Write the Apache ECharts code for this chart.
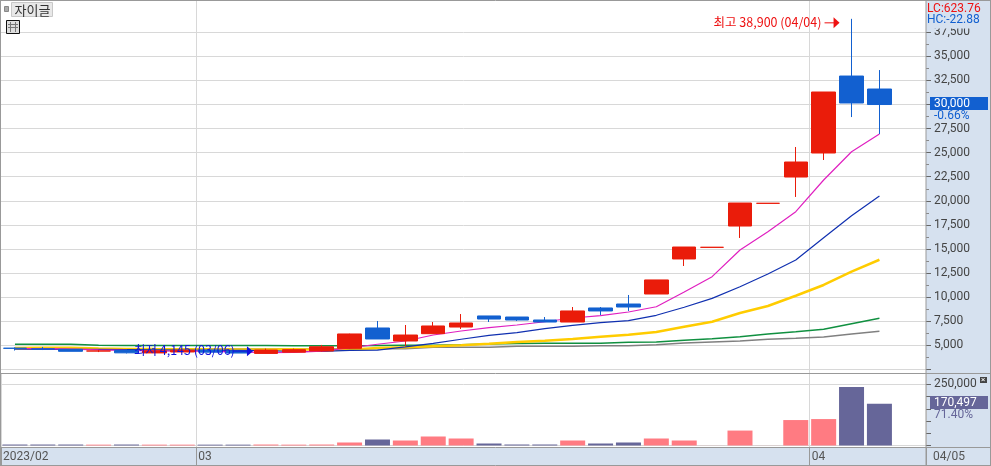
<!DOCTYPE html>
<html><head><meta charset="utf-8">
<style>html,body{margin:0;padding:0;background:#fff}#c{width:991px;height:466px}</style>
<script src="https://cdn.jsdelivr.net/npm/echarts@6/dist/echarts.min.js"></script>
</head><body><div id="c"></div>
<script>
const dates=['02/20','02/21','02/22','02/23','02/24','02/27','02/28','03/02','03/03','03/06','03/07','03/08','03/09','03/10','03/13','03/14','03/15','03/16','03/17','03/20','03/21','03/22','03/23','03/24','03/27','03/28','03/29','03/30','03/31','04/03','04/04','04/05'];
const opens=[4690,4620,4570,4400,4450,4200,4300,4500,4400,4150,4280,4400,4680,6790,5440,6200,6890,8040,7930,7620,7410,8870,9280,10320,13960,15170,17380,19740,22470,24965,32960,31610];
const closes=[4680,4600,4370,4400,4210,4420,4480,4280,4190,4500,4540,4840,6170,5650,6060,7000,7310,7720,7620,7410,8560,8560,8970,11780,15200,15170,19770,19740,24030,31300,30160,30000];
const highs=[4780,4820,4600,4520,4550,4450,4520,4540,4420,4650,4650,5030,6200,7520,7100,7410,8240,8040,7930,7930,8970,8970,10220,11780,15200,15170,19770,19740,25590,31300,38900,33580];
const lows=[4450,4500,4370,4290,4150,4200,4300,4280,4190,4145,4280,4350,4650,5650,4920,6200,6690,7410,7520,7410,7410,8140,8560,10320,13230,15170,16140,19740,20400,24240,28700,26940];
const volumes=[4000,4000,4000,3500,4000,3500,3500,3500,3500,4000,3500,4000,12300,24500,20400,36800,28600,8200,4100,4100,20400,8200,12300,28600,20400,300,61000,300,104000,108000,239000,170497];
const maA=[4660,4640,4590,4520,4460,4420,4390,4370,4320,4240,4260,4390,4720,5100,5440,6060,6480,6820,7100,7440,7830,8070,8450,9000,10530,12120,14890,16790,18870,22160,25100,26940];
const maB=[4620,4600,4580,4560,4540,4520,4500,4480,4460,4430,4350,4370,4470,4500,4820,5200,5620,6030,6300,6720,7070,7340,7550,8110,8940,9870,11080,12400,13850,16170,18450,20500];
const maC=[4720,4750,4740,4650,4620,4600,4590,4570,4560,4560,4570,4540,4520,4710,4790,4890,4990,5160,5340,5470,5650,5890,6090,6370,6920,7440,8350,9070,10140,11260,12640,13880];
const maD=[5100,5100,5100,5000,4980,4980,4970,4970,4960,4960,4950,4950,4950,4960,5000,5000,5050,5130,5180,5200,5200,5200,5300,5340,5510,5680,5890,6170,6400,6650,7240,7800];
const maE=[4620,4620,4620,4620,4620,4620,4620,4620,4620,4620,4620,4620,4640,4640,4640,4790,4790,4790,4890,4890,4890,4950,4950,5050,5230,5340,5440,5620,5720,5850,6170,6450];
const priceTicks=[2500,5000,7500,10000,12500,15000,17500,20000,22500,25000,27500,30000,32500,35000,37500];
const priceMinorTicks=[3750,6250,8750,11250,13750,16250,18750,21250,23750,26250,28750,31250,33750,36250,38750];
const volumeTicks=[0,50000,100000,150000,200000,250000];
const monthTickPositions=[-0.5,6.5,28.5,32.67];
const monthTickLabels=['2023/02','03','04','{far|04/05}'];

const UP='#ea1c0a',DOWN='#1260d0',VUP='#ff7b82',VDOWN='#666699',PANEL='#d6e1ef',GRID='#d8d8d8',BORDER='#999999',TXT='#444444';
const NUM='Roboto,"Liberation Sans",sans-serif', KR='"Noto Sans CJK KR",sans-serif';
const candle=dates.map((d,i)=>[i,opens[i],closes[i],lows[i],highs[i]]);
const line=(arr,color,w)=>({type:'line',xAxisIndex:0,yAxisIndex:0,data:arr.map((v,i)=>[i,v]),showSymbol:false,symbol:'none',smooth:false,silent:true,z:1,animation:false,lineStyle:{color,width:w}});
const X=[-0.5,32.67];
const chart=echarts.init(document.getElementById('c'),null,{renderer:'canvas'});
const priceFmt=v=>v.toLocaleString('en-US');
const noLine={show:false,onZero:false};
chart.setOption({
 animation:false,backgroundColor:'#fff',
 grid:[{left:1,right:65,top:1,height:372},{left:1,right:65,top:373.3,height:74}],
 xAxis:[
  {type:'value',gridIndex:0,min:X[0],max:X[1],axisLine:noLine,axisLabel:{show:false},axisTick:{show:false,customValues:monthTickPositions.slice(1,3)},splitLine:{show:true,lineStyle:{color:GRID,width:1}}},
  {type:'value',gridIndex:1,min:X[0],max:X[1],axisLine:noLine,
   axisTick:{show:true,length:19,customValues:monthTickPositions,lineStyle:{color:BORDER}},
   axisLabel:{show:true,customValues:monthTickPositions,align:'left',verticalAlign:'top',margin:3.5,padding:[0,0,0,2],color:'#555',fontFamily:NUM,fontSize:12,
    rich:{far:{padding:[0,0,0,5],color:'#555',fontFamily:NUM,fontSize:12}},
    formatter:v=>monthTickLabels[monthTickPositions.indexOf(v)]||'',showMinLabel:true,showMaxLabel:true,hideOverlap:false},
   splitLine:{show:true,lineStyle:{color:GRID,width:1}}}
 ],
 yAxis:[
  {type:'value',gridIndex:0,position:'right',min:2116,max:40753,scale:true,axisLine:noLine,
   axisTick:{show:true,length:5,customValues:priceTicks,lineStyle:{color:'#666'}},
   axisLabel:{show:true,customValues:priceTicks,margin:8,color:TXT,fontFamily:NUM,fontSize:12,showMinLabel:true,showMaxLabel:true,hideOverlap:false,
     formatter:v=>v===2500?'':priceFmt(v)},
   splitLine:{show:true,lineStyle:{color:GRID,width:1}}},
  {type:'value',gridIndex:0,position:'right',min:2116,max:40753,scale:true,axisLine:noLine,
   axisTick:{show:true,length:3,customValues:priceMinorTicks,lineStyle:{color:'#888'}},axisLabel:{show:false},splitLine:{show:false}},
  {type:'value',gridIndex:1,position:'right',min:-7350,max:295000,axisLine:noLine,
   axisTick:{show:true,length:5,customValues:volumeTicks,lineStyle:{color:'#666'}},
   axisLabel:{show:true,customValues:[250000],margin:8,color:TXT,fontFamily:NUM,fontSize:12,formatter:priceFmt,hideOverlap:false},
   splitLine:{show:false}}
 ],
 series:[
  line(maE,'#808080',1.5),line(maD,'#109040',1.5),line(maC,'#ffcc00',2.5),line(maB,'#1030b0',1.2),line(maA,'#e020c0',1.2),
  {type:'candlestick',xAxisIndex:0,yAxisIndex:0,z:3,silent:true,barWidth:24,data:candle,encode:{x:0,y:[1,2,3,4]},
   itemStyle:{color:UP,color0:DOWN,borderColor:UP,borderColor0:DOWN,borderColorDoji:UP,borderWidth:1}},
  {type:'bar',xAxisIndex:1,yAxisIndex:2,z:3,silent:true,barWidth:25,data:volumes.map((v,i)=>({value:[i,v],itemStyle:{color:closes[i]>=opens[i]?VUP:VDOWN}})),
   markLine:{silent:true,symbol:'none',label:{show:false},z:1,lineStyle:{color:GRID,type:'solid',width:1},data:[{yAxis:0},{yAxis:250000}]}}
 ]
});

const hi=chart.convertToPixel({xAxisIndex:0,yAxisIndex:0},[30,38900]);
const lo=chart.convertToPixel({xAxisIndex:0,yAxisIndex:0},[9,4145]);
const T=(x,y,t,fill,size,fam,extra)=>({type:'text',z:100,x,y,style:Object.assign({text:t,fill,font:size+'px '+(fam||NUM),verticalAlign:'middle',align:'left'},extra||{})});
const R=(x,y,w,h,fill,z,stroke)=>({type:'rect',z:z==null?100:z,shape:{x,y,width:w,height:h},style:{fill,stroke:stroke||null,lineWidth:1}});
const L=(x1,y1,x2,y2,c,z)=>({type:'line',z:z==null?90:z,shape:{x1,y1,x2,y2},style:{stroke:c,lineWidth:1}});
chart.setOption({graphic:{elements:[
 R(926,1,65,465,PANEL,-1),R(1,447.5,925,18,PANEL,-1),
 R(926,2,64,26.5,PANEL,50),
 L(0.5,0,0.5,466,BORDER),L(0,0.5,991,0.5,BORDER),L(926,0,926,466,BORDER),L(0,373.5,991,373.5,BORDER),L(0,447.5,991,447.5,BORDER),L(0,465.5,991,465.5,BORDER),L(990.5,0,990.5,466,BORDER),
 T(927,8.5,'LC:623.76','#ee1111',12),T(927,20,'HC:-22.88',DOWN,12),
 R(930,97,58,13,DOWN),T(934,103.5,'30,000','#fff',12),T(934,115.5,'-0.66%',DOWN,12),
 R(930,396,58,13,VDOWN),T(934,402.5,'170,497','#fff',12),T(934,414.5,'71.40%',VDOWN,12),
 R(980,377,7,6,'#444'),T(981,380,'×','#fff',8),
 R(4.5,6.5,4,5,'#aaa',100,'#888'),R(11.5,2.5,41,14,'#e8e8e8',100,'#c8c8c8'),T(14.5,10,'자이글','#333',13,KR),
 R(6.5,20.5,13,13,'#ddd',100,'#111'),L(8,24.5,18,24.5,'#777',101),L(8,27.5,18,27.5,'#777',101),L(10.5,22,10.5,32,'#777',101),L(15.5,22,15.5,32,'#777',101),
 T(hi[0]-138,hi[1]+3.5,'최고 38,900 (04/04)','#ee1111',12.5,KR),
 L(hi[0]-27,hi[1]+4,hi[0]-17,hi[1]+4,'#ee1111'),
 {type:'polygon',z:100,shape:{points:[[hi[0]-18,hi[1]-1.5],[hi[0]-12,hi[1]+4],[hi[0]-18,hi[1]+9.5]]},style:{fill:'#ee1111'}},
 T(lo[0]-132,lo[1]-3,'최저 4,145 (03/06)','#1111dd',12.5,KR),
 L(lo[0]-33,lo[1]-2.3,lo[0]-18,lo[1]-2.3,'#1111dd'),
 {type:'polygon',z:100,shape:{points:[[lo[0]-19,lo[1]-7.3],[lo[0]-13,lo[1]-2.3],[lo[0]-19,lo[1]+2.7]]},style:{fill:'#1111dd'}}
]}});
</script></body></html>
